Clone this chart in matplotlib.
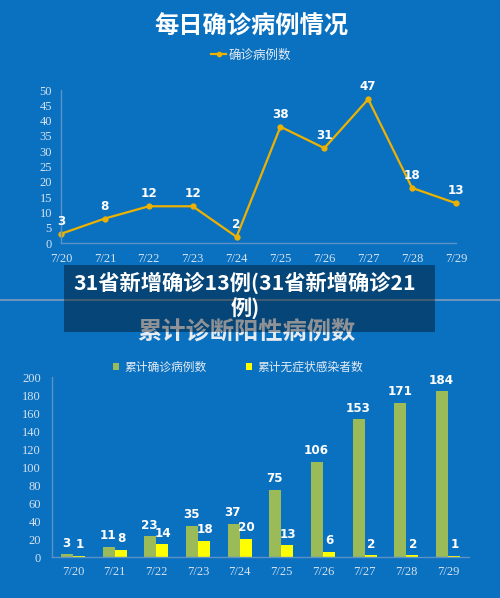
import matplotlib
matplotlib.use("Agg")
import matplotlib.pyplot as plt
from matplotlib.patches import Rectangle
from matplotlib.lines import Line2D
from matplotlib import font_manager as fm
import numpy as np

# ---------------- data ----------------
dates = ["7/20", "7/21", "7/22", "7/23", "7/24", "7/25", "7/26", "7/27", "7/28", "7/29"]
daily_confirmed = [3, 8, 12, 12, 2, 38, 31, 47, 18, 13]
cum_confirmed = [3, 11, 23, 35, 37, 75, 106, 153, 171, 184]
cum_asymptomatic = [1, 8, 14, 18, 20, 13, 6, 2, 2, 1]

title_top = "每日确诊病例情况"
title_bottom = "累计诊断阳性病例数"
legend_top = "确诊病例数"
legend_cum_confirmed = "累计确诊病例数"
legend_cum_asym = "累计无症状感染者数"
caption = "31省新增确诊13例(31省新增确诊21\n例)"

# ---------------- style ----------------
BG = "#0A70C0"
GOLD = "#EDB200"
GREEN = "#9BBB59"
YELLOW = "#FFFF00"
SPINE = "#5C92C8"
TICK = "#D6E2EE"
CJK = ["Noto Sans CJK SC", "DejaVu Sans"]
SERIF = ["Liberation Serif", "DejaVu Serif"]

# condensed bold font for the value labels, if one is installed
NUM_PROP = fm.FontProperties(family="DejaVu Sans", weight="bold", stretch="condensed", size=9)
_cands = [f for f in fm.fontManager.ttflist
          if ("Condensed" in f.name or "Narrow" in f.name or "Condensed" in f.fname
              or "Narrow" in f.fname)]
_bold = [f for f in _cands if "Bold" in f.fname and "Oblique" not in f.fname
         and "Italic" not in f.fname]
if _bold:
    NUM_PROP = fm.FontProperties(fname=_bold[0].fname, size=9.5)

W, H = 500, 598
fig = plt.figure(figsize=(W / 100, H / 100), dpi=100, facecolor=BG)


def fx(px):
    return px / W


def fy(py):
    return 1 - py / H


def style_axes(ax):
    ax.set_facecolor("none")
    for s in ["top", "right"]:
        ax.spines[s].set_visible(False)
    for s in ["left", "bottom"]:
        ax.spines[s].set_color(SPINE)
        ax.spines[s].set_linewidth(1.0)
    ax.tick_params(length=0, colors=TICK)
    for lab in ax.get_xticklabels() + ax.get_yticklabels():
        lab.set_fontfamily(SERIF)
        lab.set_fontsize(9)
        lab.set_color(TICK)


# ---------------- top line chart ----------------
ax1 = fig.add_axes([fx(61), fy(243), fx(456 - 61), (243 - 90) / H])
x = np.arange(len(dates))
ax1.plot(x, daily_confirmed, color=GOLD, lw=1.6, marker="o", ms=3.5,
         label=legend_top, clip_on=False)
ax1.set_xlim(0, len(dates) - 1)
ax1.set_ylim(0, 50)
ax1.set_yticks(np.arange(0, 51, 5))
ax1.set_xticks(x)
ax1.set_xticklabels(dates)
ax1.tick_params(axis="y", pad=6.5)
ax1.tick_params(axis="x", pad=7)
style_axes(ax1)
for xi, v in zip(x, daily_confirmed):
    ax1.annotate(str(v), (xi, v), xytext=(0, 9), textcoords="offset points",
                 ha="center", va="center", color="white", fontproperties=NUM_PROP)

fig.text(fx(251), fy(27), title_top, ha="center", va="center", color="white",
         fontsize=17.5, fontweight="bold", family=CJK)
leg1 = fig.legend(handles=[Line2D([0], [0], color=GOLD, lw=1.6, marker="o", ms=3)],
                  labels=[legend_top], loc="center",
                  bbox_to_anchor=(fx(251), fy(55)), frameon=False,
                  handlelength=1.2, handletextpad=0.2,
                  prop={"family": CJK, "size": 9})
for t in leg1.get_texts():
    t.set_color("#E4ECF4")

# ---------------- bottom bar chart ----------------
ax2 = fig.add_axes([fx(52), fy(557), fx(469 - 52), (557 - 377) / H])
bw = 0.288
b1 = ax2.bar(x - bw / 2, cum_confirmed, width=bw, color=GREEN, label=legend_cum_confirmed)
b2 = ax2.bar(x + bw / 2, cum_asymptomatic, width=bw, color=YELLOW, label=legend_cum_asym)
ax2.set_xlim(-0.5, len(dates) - 0.5)
ax2.set_ylim(0, 200)
ax2.set_yticks(np.arange(0, 201, 20))
ax2.set_xticks(x)
ax2.set_xticklabels(dates)
ax2.tick_params(axis="y", pad=8)
ax2.tick_params(axis="x", pad=6.5)
style_axes(ax2)
for xi, v in zip(x, cum_confirmed):
    ax2.annotate(str(v), (xi - bw / 2, v), xytext=(-0.5, 8), textcoords="offset points",
                 ha="center", va="center", color="white", fontproperties=NUM_PROP)
for xi, v in zip(x, cum_asymptomatic):
    ax2.annotate(str(v), (xi + bw / 2, v), xytext=(0.5, 8), textcoords="offset points",
                 ha="center", va="center", color="white", fontproperties=NUM_PROP)

fig.text(fx(246), fy(333), title_bottom, ha="center", va="center", color="#E6ECF2",
         fontsize=17.5, fontweight="bold", family=CJK)
leg2 = fig.legend(handles=[b1, b2], labels=[legend_cum_confirmed, legend_cum_asym],
                  loc="center", bbox_to_anchor=(fx(238), fy(367)), ncol=2,
                  frameon=False, handlelength=0.5, handleheight=0.5,
                  handletextpad=0.4, columnspacing=3.4,
                  prop={"family": CJK, "size": 8.5})
for t in leg2.get_texts():
    t.set_color("#E4ECF4")

# ---------------- separator + caption overlay ----------------
fig.add_artist(Line2D([0, 1], [fy(300), fy(300)], transform=fig.transFigure,
                      color="#6A94BC", lw=1.5))
fig.add_artist(Rectangle((fx(64), fy(332)), fx(435 - 64), (332 - 265) / H,
                         transform=fig.transFigure, facecolor="black",
                         alpha=0.38, edgecolor="none", zorder=10))
fig.text(fx(245), fy(296), caption, ha="center", va="center", color="white",
         fontsize=15.3, fontweight="bold", family=CJK, linespacing=1.25, zorder=11)

fig.savefig("out.png", dpi=100, facecolor=BG)
